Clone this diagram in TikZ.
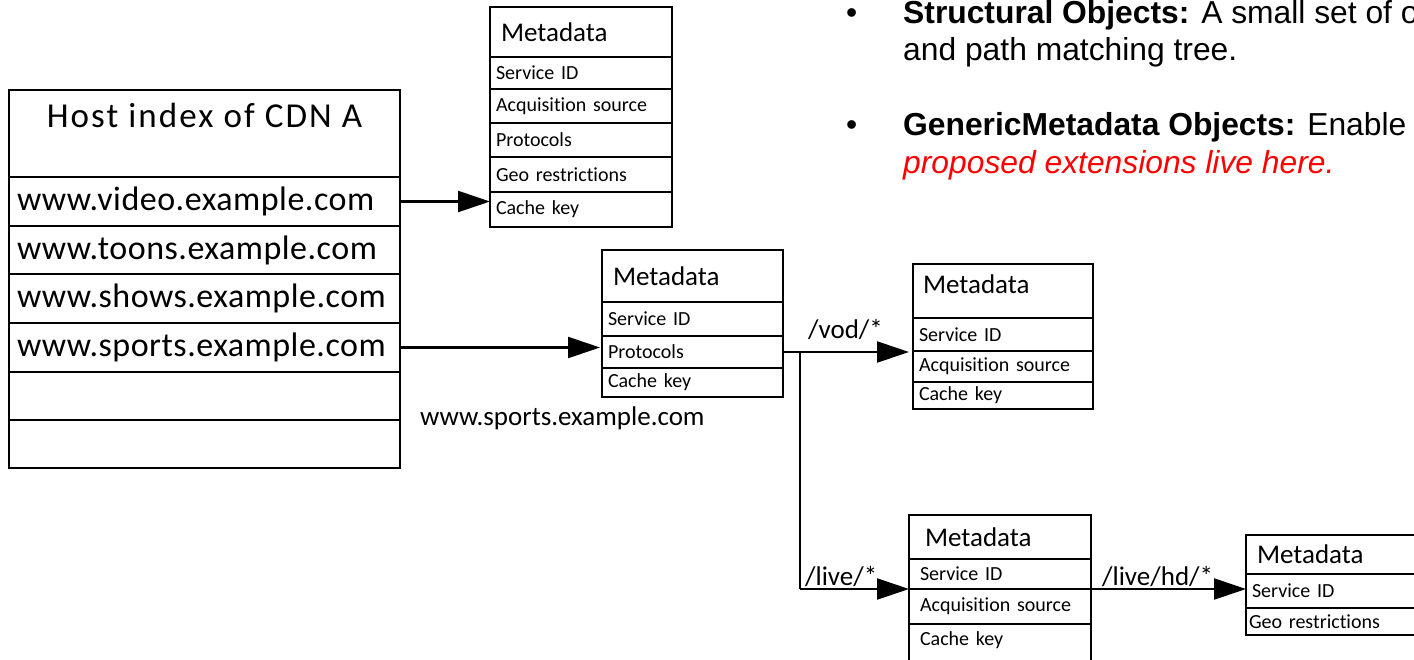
\documentclass[tikz,border=0pt]{standalone}
\usepackage{fontspec}
\setmainfont{Carlito}[Ligatures=NoCommon]
\newfontfamily\arialf{Liberation Sans}
\usetikzlibrary{arrows.meta}
\begin{document}
\begin{tikzpicture}[x=1pt,y=-1pt,
  box/.style={draw, line width=2.3pt, anchor=north west, inner ysep=0pt, align=left, outer sep=0pt},
  hdr/.style={box, inner xsep=11pt, font=\fontsize{27}{30}\selectfont},
  fld/.style={box, inner xsep=6pt, font=\fontsize{20}{22}\selectfont},
  hrow/.style={box, inner xsep=8pt, text width=375pt, font=\fontsize{34}{38}\selectfont\addfontfeature{LetterSpace=1.5}},
  lbl/.style={anchor=base west, inner sep=0pt, font=\fontsize{27}{30}\selectfont},
  arr/.style={line width=2.3pt, -{Triangle[length=32pt,width=21pt]}},
  conn/.style={line width=2.3pt},
  bul/.style={anchor=base west, inner sep=0pt, font=\arialf\fontsize{31.8}{36}\selectfont}
]
\useasboundingbox (0,0) rectangle (1414,659);
\clip (0,0) rectangle (1414,659);

% Host index
\node[box, minimum width=391pt, minimum height=87pt, align=center, text depth=36pt, font=\fontsize{35}{40}\selectfont\addfontfeature{LetterSpace=6}] (hh) at (9,90) {Host index of CDN A};
\node[hrow, minimum height=49pt] (hv) at (9,177) {www.video.example.com};
\node[hrow, minimum height=48pt] (ht) at (9,226) {www.toons.example.com};
\node[hrow, minimum height=49pt] (hw) at (9,274) {www.shows.example.com};
\node[hrow, minimum height=49pt] (hs) at (9,323) {www.sports.example.com};
\node[hrow, minimum height=48pt] (he1) at (9,372) {};
\node[hrow, minimum height=48pt] (he2) at (9,420) {};

% Metadata box 1 (top)
\node[hdr, text width=160pt, minimum height=50pt] (m1h) at (490,7) {Metadata};
\node[fld, text width=170pt, minimum height=32pt] (m1s) at (490,57) {Service ID};
\node[fld, text width=170pt, minimum height=34pt] (m1a) at (490,89) {Acquisition source};
\node[fld, text width=170pt, minimum height=34pt] (m1p) at (490,123) {Protocols};
\node[fld, text width=170pt, minimum height=35pt] (m1g) at (490,157) {Geo restrictions};
\node[fld, text width=170pt, minimum height=35pt] (m1c) at (490,192) {Cache key};

% Metadata box 2 (middle)
\node[hdr, text width=159pt, minimum height=52pt] (m2h) at (602,250) {Metadata};
\node[fld, text width=169pt, minimum height=34pt] (m2s) at (602,302) {Service ID};
\node[fld, text width=169pt, minimum height=32pt] (m2p) at (602,336) {Protocols};
\node[fld, text width=169pt, minimum height=29pt] (m2c) at (602,368) {Cache key};

% Metadata box 3 (vod)
\node[hdr, inner xsep=10pt, text width=160pt, minimum height=54pt, text depth=14pt] (m3h) at (913,264) {Metadata};
\node[fld, text width=168pt, minimum height=33pt] (m3s) at (913,318) {Service ID};
\node[fld, text width=168pt, minimum height=31pt] (m3a) at (913,351) {Acquisition source};
\node[fld, text width=168pt, minimum height=27pt] (m3c) at (913,382) {Cache key};

% Metadata box 4 (live)
\node[hdr, inner xsep=16pt, text width=150pt, minimum height=44pt] (m4h) at (909,515) {Metadata};
\node[fld, inner xsep=11pt, text width=160pt, minimum height=30pt] (m4s) at (909,559) {Service ID};
\node[fld, inner xsep=11pt, text width=160pt, minimum height=35pt] (m4a) at (909,589) {Acquisition source};
\node[fld, inner xsep=11pt, text width=160pt, minimum height=41pt, text depth=12pt] (m4c) at (909,624) {Cache key};

% Metadata box 5 (live hd)
\node[hdr, text width=158pt, minimum height=39pt] (m5h) at (1246,535) {Metadata};
\node[fld, text width=168pt, minimum height=34pt] (m5s) at (1246,574) {Service ID};
\node[fld, inner xsep=3pt, text width=174pt, minimum height=27pt] (m5g) at (1246,608) {Geo restrictions};

% Connectors
\draw[arr] (hv.east) -- (hv.east -| m1h.west);
\draw[arr] (hs.east) -- ([xshift=-2pt]hs.east -| m2h.west);
\coordinate (br) at ([xshift=17pt]m2p.east);
\coordinate (bl) at (br |- m4s.south);
\draw[arr, shorten >=4pt] (m2p.east) -- (m2p.east -| m3h.west);
\draw[conn] (br) -- (bl);
\draw[arr] (bl) -- (bl -| m4h.west);
\draw[arr] (m4s.south east) -- (m4s.south east -| m5h.west);

% Labels
\node[lbl] (lurl) at (420,425) {www.sports.example.com};
\node[lbl] (lvod) at (808,338) {/vod/*};
\node[lbl] (llive) at (805,585) {/live/*};
\node[lbl] (lhd) at (1102,585) {/live/hd/*};

% Bullet text
\node[bul] (b1) at (846,23) {•};
\node[bul] (t1) at (903,23) {\textbf{Structural Objects:} A small set of o};
\node[bul] (t2) at (903,60) {and path matching tree.};
\node[bul] (b2) at (846,135) {•};
\node[bul] (t3) at (903,135) {\textbf{GenericMetadata Objects:} Enable};
\node[bul, text=red] (t4) at (903,173) {\textit{proposed extensions live here.}};
\end{tikzpicture}
\end{document}
